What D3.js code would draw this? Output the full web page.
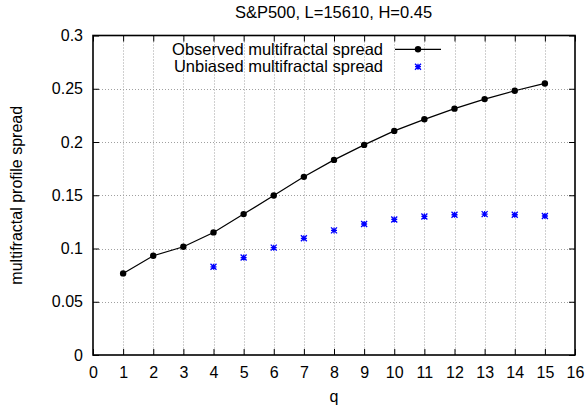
<!DOCTYPE html>
<html>
<head>
<meta charset="utf-8">
<script src="https://cdn.jsdelivr.net/npm/d3@7/dist/d3.min.js"></script>
<style>
html,body{margin:0;padding:0;background:#fff;}
svg{display:block;}
text{font-family:"Liberation Sans",Arial,sans-serif;fill:#000;}
</style>
</head>
<body>
<svg id="chart" width="588" height="414"></svg>
<script>
const qValues = [1,2,3,4,5,6,7,8,9,10,11,12,13,14,15];
const observedSpread = [0.0766,0.0932,0.1016,0.1151,0.1323,0.1498,0.1673,0.1832,0.1973,0.2104,0.2213,0.2313,0.2403,0.2481,0.2550];
const unbiasedQ = [4,5,6,7,8,9,10,11,12,13,14,15];
const unbiasedSpread = [0.0828,0.0915,0.1008,0.1096,0.1170,0.1230,0.1273,0.1301,0.1317,0.1323,0.1317,0.1305];
const xTicks = [0,1,2,3,4,5,6,7,8,9,10,11,12,13,14,15,16];
const yTicks = [0,0.05,0.1,0.15,0.2,0.25,0.3];
const yTickLabels = ["0","0.05","0.1","0.15","0.2","0.25","0.3"];
const titleText = "S&P500, L=15610, H=0.45";
const xLabel = "q";
const yLabel = "multifractal profile spread";
const seriesNames = ["Observed multifractal spread","Unbiased multifractal spread"];

const svg = d3.select("#chart");
const L = 93, R = 575, T = 35.5, B = 355;
const FS = 16;
const x = d3.scaleLinear().domain([0,16]).range([L,R]);
const y = d3.scaleLinear().domain([0,0.3]).range([B,T]);

// grid
const grid = svg.append("g").attr("stroke","#a0a0a0").attr("stroke-width",1).attr("stroke-dasharray","1,2");
xTicks.slice(1,-1).forEach(v=>{
  grid.append("line").attr("x1",Math.round(x(v))+0.5).attr("x2",Math.round(x(v))+0.5).attr("y1",T).attr("y2",B);
});
yTicks.slice(1,-1).forEach(v=>{
  grid.append("line").attr("x1",L).attr("x2",R).attr("y1",Math.round(y(v))+0.5).attr("y2",Math.round(y(v))+0.5);
});

// axes with inward ticks
const tl = 6;
const xb = svg.append("g").attr("transform",`translate(0,${B})`)
  .call(d3.axisBottom(x).tickValues(xTicks).tickSize(-tl).tickPadding(11.5).tickFormat(d3.format("d")));
const xt = svg.append("g").attr("transform",`translate(0,${T})`)
  .call(d3.axisTop(x).tickValues(xTicks).tickSize(-tl).tickFormat(""));
const yl = svg.append("g").attr("transform",`translate(${L},0)`)
  .call(d3.axisLeft(y).tickValues(yTicks).tickSize(-tl).tickPadding(10).tickFormat((d,i)=>yTickLabels[i]));
const yr = svg.append("g").attr("transform",`translate(${R},0)`)
  .call(d3.axisRight(y).tickValues(yTicks).tickSize(-tl).tickFormat(""));
[xb,xt,yl,yr].forEach(g=>{
  g.selectAll(".domain").remove();
  g.selectAll("line").attr("stroke","#000");
  g.selectAll("text").style("font-size",FS+"px").attr("fill","#000");
});
svg.append("rect").attr("x",L).attr("y",T).attr("width",R-L).attr("height",B-T)
  .attr("fill","none").attr("stroke","#000").attr("stroke-width",1.6);

// title and labels
svg.append("text").attr("x",333.5).attr("y",17.5).attr("text-anchor","middle").style("font-size","16.5px").text(titleText);
svg.append("text").attr("x",(L+R)/2).attr("y",402).attr("text-anchor","middle").style("font-size",FS+"px").text(xLabel);
svg.append("text").attr("transform",`translate(22,${(T+B)/2}) rotate(-90)`).attr("text-anchor","middle").style("font-size",FS+"px").text(yLabel);

// observed line
const line = d3.line().x((d,i)=>x(qValues[i])).y(d=>y(d));
svg.append("path").datum(observedSpread).attr("d",line).attr("fill","none").attr("stroke","#000").attr("stroke-width",1.2);
svg.append("g").selectAll("circle").data(observedSpread).join("circle")
  .attr("cx",(d,i)=>x(qValues[i])).attr("cy",d=>y(d)).attr("r",3.2).attr("fill","#000");

// unbiased stars
function star(g,cx,cy){
  const s=3;
  g.append("path").attr("d",`M${cx-s},${cy}H${cx+s}M${cx},${cy-s}V${cy+s}M${cx-s},${cy-s}L${cx+s},${cy+s}M${cx-s},${cy+s}L${cx+s},${cy-s}`)
   .attr("stroke","#0000ff").attr("stroke-width",1.3).attr("fill","none");
}
const ug = svg.append("g");
unbiasedSpread.forEach((v,i)=>star(ug,x(unbiasedQ[i]),y(v)));

// legend
const lg = svg.append("g");
const ly = [49.3, 66.7];
lg.append("text").attr("x",383).attr("y",ly[0]+5.7).attr("text-anchor","end").style("font-size","16.5px").text(seriesNames[0]);
lg.append("text").attr("x",383).attr("y",ly[1]+5.7).attr("text-anchor","end").style("font-size","16.5px").text(seriesNames[1]);
lg.append("line").attr("x1",395).attr("x2",441).attr("y1",ly[0]).attr("y2",ly[0]).attr("stroke","#000").attr("stroke-width",1.2);
lg.append("circle").attr("cx",418).attr("cy",ly[0]).attr("r",3.2).attr("fill","#000");
star(lg,418,ly[1]);
</script>
</body>
</html>
